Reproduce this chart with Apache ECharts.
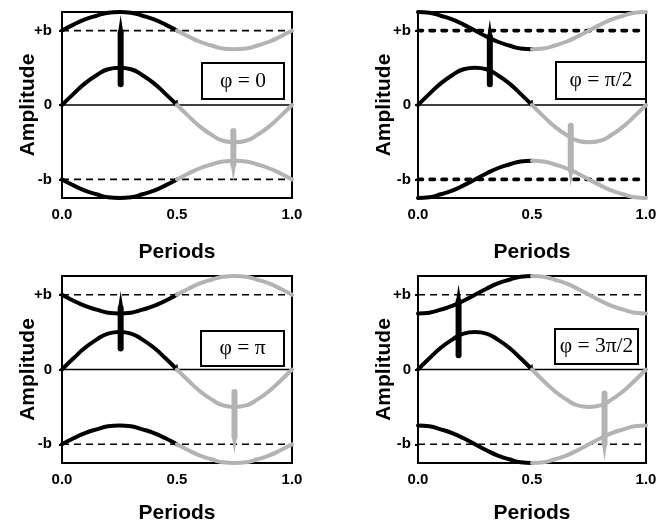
<!DOCTYPE html>
<html>
<head>
<meta charset="utf-8">
<script src="https://cdn.jsdelivr.net/npm/echarts@6/dist/echarts.min.js"></script>
<style>html,body{margin:0;padding:0;background:#fff}#c{width:665px;height:521px}</style>
</head>
<body>
<div id="c"></div>
<script>
// ---- data ----
const periods = [0,0.05,0.1,0.15,0.2,0.25,0.3,0.35,0.4,0.45,0.5,0.55,0.6,0.65,0.7,0.75,0.8,0.85,0.9,0.95,1];
const middleCurve = [0,0.15,0.29,0.40,0.48,0.50,0.48,0.40,0.29,0.15,0,-0.15,-0.29,-0.40,-0.48,-0.50,-0.48,-0.40,-0.29,-0.15,0];

const upperPhi0   = [1.00,1.08,1.15,1.20,1.24,1.25,1.24,1.20,1.15,1.08,1.00,0.92,0.85,0.80,0.76,0.75,0.76,0.80,0.85,0.92,1.00];
const lowerPhi0   = [-1.00,-1.08,-1.15,-1.20,-1.24,-1.25,-1.24,-1.20,-1.15,-1.08,-1.00,-0.92,-0.85,-0.80,-0.76,-0.75,-0.76,-0.80,-0.85,-0.92,-1.00];
const upperPhiPi2 = [1.25,1.24,1.20,1.15,1.08,1.00,0.92,0.85,0.80,0.76,0.75,0.76,0.80,0.85,0.92,1.00,1.08,1.15,1.20,1.24,1.25];
const lowerPhiPi2 = [-1.25,-1.24,-1.20,-1.15,-1.08,-1.00,-0.92,-0.85,-0.80,-0.76,-0.75,-0.76,-0.80,-0.85,-0.92,-1.00,-1.08,-1.15,-1.20,-1.24,-1.25];
const upperPhiPi  = [1.00,0.92,0.85,0.80,0.76,0.75,0.76,0.80,0.85,0.92,1.00,1.08,1.15,1.20,1.24,1.25,1.24,1.20,1.15,1.08,1.00];
const lowerPhiPi  = [-1.00,-0.92,-0.85,-0.80,-0.76,-0.75,-0.76,-0.80,-0.85,-0.92,-1.00,-1.08,-1.15,-1.20,-1.24,-1.25,-1.24,-1.20,-1.15,-1.08,-1.00];
const upperPhi3Pi2 = [0.75,0.76,0.80,0.85,0.92,1.00,1.08,1.15,1.20,1.24,1.25,1.24,1.20,1.15,1.08,1.00,0.92,0.85,0.80,0.76,0.75];
const lowerPhi3Pi2 = [-0.75,-0.76,-0.80,-0.85,-0.92,-1.00,-1.08,-1.15,-1.20,-1.24,-1.25,-1.24,-1.20,-1.15,-1.08,-1.00,-0.92,-0.85,-0.80,-0.76,-0.75];

// arrows: [period, start, end]
const upArrows   = [[0.255,0.28,1.21],[0.315,0.28,1.15],[0.255,0.28,1.05],[0.178,0.19,1.14]];
const downArrows = [[0.745,-0.35,-1.03],[0.67,-0.28,-1.10],[0.75,-0.30,-1.13],[0.818,-0.32,-1.22]];

const bLevels = [1,-1];
const zeroLevel = [0];
const xTickValues = [0,0.5,1];
const yTickValues = [-1,0,1];
const yTickLabels = ['-b','0','+b'];
const phaseLabels = ['\u03c6 = 0','\u03c6 = \u03c0/2','\u03c6 = \u03c0','\u03c6 = 3\u03c0/2'];
const xTitle = 'Periods';
const yTitle = 'Amplitude';

// ---- layout / styles ----
const upperCurves = [upperPhi0, upperPhiPi2, upperPhiPi, upperPhi3Pi2];
const lowerCurves = [lowerPhi0, lowerPhiPi2, lowerPhiPi, lowerPhi3Pi2];
const grids = [
  {left:62, top:12, width:230, height:186},
  {left:418, top:12, width:228, height:186},
  {left:62, top:276, width:230, height:187},
  {left:418, top:276, width:228, height:187}
];
const xNameGaps = [44,44,40,40];
const yLabelMargins = [10,7,10,7];
const dashStyles = [
  {width:1.6, type:[7,5], cap:'butt'},
  {width:3.6, type:[4.5,7.5], cap:'round'},
  {width:1.6, type:[7,5], cap:'butt'},
  {width:1.6, type:[7,5], cap:'butt'}
];
const boxes = [
  {x:201, y:62, w:82, h:36},
  {x:555, y:61, w:90, h:37},
  {x:200, y:330, w:83, h:35},
  {x:554, y:328, w:83, h:35}
];
const BLACK = '#000000';
const GREY = '#b3b3b3';
const FONT = 'Liberation Sans, Arial, sans-serif';

function pairs(ys, from, to) {
  const out = [];
  for (let i = from; i <= to; i++) out.push([periods[i], ys[i]]);
  return out;
}
const half = (periods.length - 1) / 2;

function arrowRenderer(color) {
  return function (params, api) {
    const p0 = api.coord([api.value(0), api.value(1)]);
    const p1 = api.coord([api.value(0), api.value(2)]);
    const dir = p1[1] < p0[1] ? -1 : 1;
    const neckY = p1[1] - dir * 17;
    const baseY = p1[1] - dir * 19;
    return {
      type: 'group',
      children: [
        {type:'line', shape:{x1:p0[0], y1:p0[1], x2:p0[0], y2:neckY},
         style:{stroke:color, lineWidth:6, lineCap:'round'}},
        {type:'polygon', shape:{points:[[p1[0]-2.8, baseY],[p1[0]+2.8, baseY],[p1[0], p1[1]]]},
         style:{fill:color}}
      ]
    };
  };
}

const option = {
  animation: false,
  backgroundColor: '#fff',
  grid: grids.map(g => Object.assign({show:true, borderColor:BLACK, borderWidth:2, backgroundColor:'transparent',
    containLabel:false, outerBoundsMode:'none'}, g)),
  xAxis: grids.map((g, i) => ({
    gridIndex: i, type: 'value', min: 0, max: 1, interval: 0.5,
    name: xTitle, nameLocation: 'middle', nameGap: xNameGaps[i], nameMoveOverlap: false,
    nameTextStyle: {fontFamily: FONT, fontWeight: 'bold', fontSize: 21, color: BLACK},
    axisLine: {show: false},
    axisTick: {show: true, inside: true, length: 5, lineStyle: {color: BLACK, width: 1.5}},
    splitLine: {show: false},
    axisLabel: {fontFamily: FONT, fontWeight: 'bold', fontSize: 15, color: BLACK, margin: 9,
      formatter: v => xTickValues.indexOf(v) >= 0 ? v.toFixed(1) : ''}
  })),
  yAxis: grids.map((g, i) => ({
    gridIndex: i, type: 'value', min: -1.25, max: 1.25,
    name: yTitle, nameLocation: 'middle', nameGap: 23, nameMoveOverlap: false,
    nameTextStyle: {fontFamily: FONT, fontWeight: 'bold', fontSize: 21, color: BLACK},
    axisLine: {show: false},
    axisTick: {show: true, length: 3, customValues: yTickValues, lineStyle: {color: BLACK, width: 2}},
    splitLine: {show: false},
    axisLabel: {fontFamily: FONT, fontWeight: 'bold', fontSize: 15, color: BLACK, margin: yLabelMargins[i],
      customValues: yTickValues,
      formatter: v => { const k = yTickValues.indexOf(v); return k >= 0 ? yTickLabels[k] : ''; }}
  })),
  graphic: boxes.map((b, i) => ({
    type: 'group', left: b.x, top: b.y, z: 100,
    children: [
      {type:'rect', shape:{x:0, y:0, width:b.w, height:b.h}, style:{fill:'#fff', stroke:BLACK, lineWidth:2}},
      {type:'text', x:b.w/2, y:b.h/2, style:{text:phaseLabels[i], fontFamily:'Liberation Serif, Times New Roman, serif', fontSize:21.5, fill:BLACK, align:'center', verticalAlign:'middle'}}
    ]
  })),
  series: []
};

grids.forEach((g, i) => {
  const common = {type:'line', xAxisIndex:i, yAxisIndex:i, showSymbol:false, symbol:'none', smooth:true, z:3};
  bLevels.forEach(lv => {
    option.series.push({type:'line', xAxisIndex:i, yAxisIndex:i, symbol:'none', z:2,
      data:[[0, lv],[1, lv]], lineStyle:{color:BLACK, width:dashStyles[i].width, type:dashStyles[i].type, cap:dashStyles[i].cap}});
  });
  zeroLevel.forEach(lv => {
    option.series.push({type:'line', xAxisIndex:i, yAxisIndex:i, symbol:'none', z:2,
      data:[[0, lv],[1, lv]], lineStyle:{color:BLACK, width:1.6}});
  });
  [upperCurves[i], middleCurve, lowerCurves[i]].forEach(curve => {
    option.series.push(Object.assign({}, common, {data: pairs(curve, 0, half), lineStyle:{color:BLACK, width:4, cap:'round'}}));
    option.series.push(Object.assign({}, common, {data: pairs(curve, half, periods.length - 1), lineStyle:{color:GREY, width:4, cap:'round'}}));
  });
  option.series.push({type:'custom', xAxisIndex:i, yAxisIndex:i, z:5, clip:false,
    renderItem: arrowRenderer(BLACK), data:[upArrows[i]]});
  option.series.push({type:'custom', xAxisIndex:i, yAxisIndex:i, z:5, clip:false,
    renderItem: arrowRenderer(GREY), data:[downArrows[i]]});
});

const chart = echarts.init(document.getElementById('c'), null, {renderer:'canvas'});
chart.setOption(option);
</script>
</body>
</html>
